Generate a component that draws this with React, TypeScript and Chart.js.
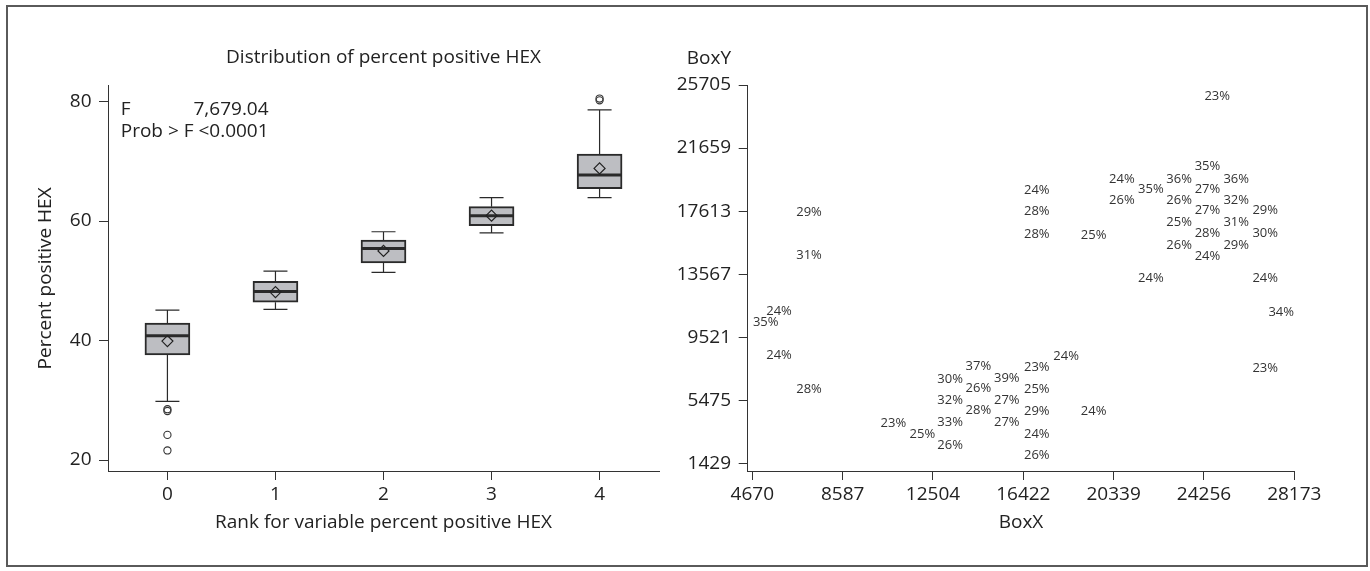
import React, { useEffect, useRef } from "react";
import { Chart, registerables } from "chart.js";

Chart.register(...registerables);

// ---------- Left panel: box plot data ----------
const RANKS = [0, 1, 2, 3, 4];
const Q1 = [37.6, 46.4, 53.0, 59.2, 65.4];
const MEDIAN = [40.8, 48.2, 55.4, 60.9, 67.7];
const Q3 = [42.9, 49.9, 56.8, 62.4, 71.2];
const WHISKER_LOW = [29.8, 45.2, 51.4, 58.0, 63.9];
const WHISKER_HIGH = [45.1, 51.6, 58.2, 63.9, 78.6];
const MEANS = [39.9, 48.1, 55.0, 60.9, 68.8];
const OUTLIER_RANK = [0, 0, 0, 0, 4, 4];
const OUTLIER_VALUE = [28.2, 28.5, 24.2, 21.6, 80.2, 80.5];
const LEFT_Y_TICKS = [20, 40, 60, 80];
const LEFT_TITLE = "Distribution of percent positive HEX";
const LEFT_Y_TITLE = "Percent positive HEX";
const LEFT_X_TITLE = "Rank for variable percent positive HEX";
const STAT_F_LABEL = "F";
const STAT_F_VALUE = "7,679.04";
const STAT_P_LINE = "Prob > F <0.0001";

// ---------- Right panel: labelled scatter data ----------
const BOX_X = [
  5251, 5828, 5828, 7130, 7130, 7130, 10787, 12045, 13246, 13246, 13246, 13246,
  14474, 14474, 14474, 15706, 15706, 15706, 17007, 17007, 17007, 17007, 17007,
  17007, 17007, 17007, 18278, 19471, 19471, 20695, 20695, 21953, 21953, 23180,
  23180, 23180, 23180, 24408, 24408, 24408, 24408, 24408, 25653, 25653, 25653,
  25653, 26911, 26911, 26911, 27605, 26911, 24829,
];
const BOX_Y = [
  10477, 11157, 8334, 17536, 14751, 6178, 3996, 3309, 6839, 5446, 4034, 2603,
  7628, 6242, 4849, 6883, 5491, 4060, 7589, 6178, 4740, 3309, 1962,
  18922, 17574, 16124, 8269, 4740, 16079, 19673, 18280, 19031, 13300, 19673,
  18280, 16894, 15437, 20462, 19031, 17638, 16188, 14687, 19673, 18280, 16894,
  15437, 17638, 16188, 13300, 11093, 7525, 24954,
];
const PCT = [
  "35%", "24%", "24%", "29%", "31%", "28%", "23%", "25%", "30%", "32%", "33%", "26%",
  "37%", "26%", "28%", "39%", "27%", "27%", "23%", "25%", "29%", "24%", "26%",
  "24%", "28%", "28%", "24%", "24%", "25%", "24%", "26%", "35%", "24%", "36%",
  "26%", "25%", "26%", "35%", "27%", "27%", "28%", "24%", "36%", "32%", "31%",
  "29%", "29%", "30%", "24%", "34%", "23%", "23%",
];
const RIGHT_X_TICKS = [4670, 8587, 12504, 16422, 20339, 24256, 28173];
const RIGHT_Y_TICKS = [1429, 5475, 9521, 13567, 17613, 21659, 25705];
const RIGHT_X_TITLE = "BoxX";
const RIGHT_Y_TITLE = "BoxY";

const FONT = "'Open Sans', sans-serif";
const TEXT = "#222222";
const AXIS = "#333333";

Chart.defaults.font.family = FONT;
Chart.defaults.color = TEXT;

const gridOpts = {
  display: true,
  drawOnChartArea: false,
  drawTicks: true,
  tickLength: 9,
  color: AXIS,
  lineWidth: 1,
  offset: false,
};
const borderOpts = { display: true, color: AXIS, width: 1 };

const boxPlugin = {
  id: "boxParts",
  afterDatasetDraw(chart: any, args: any) {
    if (args.index !== 0) return;
    const { ctx, scales } = chart;
    const xs = scales.x;
    const ys = scales.y;
    ctx.save();
    ctx.strokeStyle = "#2a2a2a";
    RANKS.forEach((r, i) => {
      const x = xs.getPixelForValue(r);
      const half = 22.5;
      const cap = 12;
      ctx.lineWidth = 1.2;
      ctx.beginPath();
      ctx.moveTo(x, ys.getPixelForValue(Q3[i]));
      ctx.lineTo(x, ys.getPixelForValue(WHISKER_HIGH[i]));
      ctx.moveTo(x, ys.getPixelForValue(Q1[i]));
      ctx.lineTo(x, ys.getPixelForValue(WHISKER_LOW[i]));
      ctx.moveTo(x - cap, ys.getPixelForValue(WHISKER_HIGH[i]));
      ctx.lineTo(x + cap, ys.getPixelForValue(WHISKER_HIGH[i]));
      ctx.moveTo(x - cap, ys.getPixelForValue(WHISKER_LOW[i]));
      ctx.lineTo(x + cap, ys.getPixelForValue(WHISKER_LOW[i]));
      ctx.stroke();
      ctx.lineWidth = 3;
      ctx.beginPath();
      const my = ys.getPixelForValue(MEDIAN[i]);
      ctx.moveTo(x - half + 1, my);
      ctx.lineTo(x + half - 1, my);
      ctx.stroke();
    });
    ctx.restore();
  },
  afterDraw(chart: any) {
    const { ctx, chartArea } = chart;
    ctx.save();
    ctx.font = `19px ${FONT}`;
    ctx.fillStyle = TEXT;
    ctx.textBaseline = "middle";
    const x0 = chartArea.left + 12.7;
    const y1 = chartArea.top + 24;
    const y2 = chartArea.top + 45.7;
    ctx.textAlign = "left";
    ctx.fillText(STAT_F_LABEL, x0, y1);
    ctx.fillText(STAT_P_LINE, x0, y2);
    const w = ctx.measureText(STAT_P_LINE).width;
    ctx.textAlign = "right";
    ctx.fillText(STAT_F_VALUE, x0 + w, y1);
    ctx.restore();
  },
};

const labelPlugin = {
  id: "pctLabels",
  afterDatasetsDraw(chart: any) {
    const meta = chart.getDatasetMeta(0);
    const { ctx } = chart;
    ctx.save();
    ctx.font = `13px ${FONT}`;
    ctx.fillStyle = "#333333";
    ctx.textAlign = "center";
    ctx.textBaseline = "middle";
    meta.data.forEach((pt: any, i: number) => {
      ctx.fillText(PCT[i], pt.x, pt.y);
    });
    ctx.restore();
  },
  afterDraw(chart: any) {
    const { ctx, chartArea, scales } = chart;
    ctx.save();
    ctx.font = `19px ${FONT}`;
    ctx.fillStyle = TEXT;
    ctx.textAlign = "right";
    ctx.textBaseline = "middle";
    ctx.fillText(RIGHT_Y_TITLE, scales.y.right - 9 - 7.7, chartArea.top - 26);
    ctx.restore();
  },
};

function LeftChart() {
  const ref = useRef<HTMLCanvasElement | null>(null);
  useEffect(() => {
    if (!ref.current) return;
    const chart = new Chart(ref.current, {
      type: "bar",
      data: {
        datasets: [
          {
            type: "bar",
            data: RANKS.map((r, i) => ({ x: r, y: [Q1[i], Q3[i]] })) as any,
            backgroundColor: "#bdbec2",
            borderColor: "#2a2a2a",
            borderWidth: 2,
            borderSkipped: false,
            barThickness: 45,
            order: 3,
          } as any,
          {
            type: "scatter",
            data: OUTLIER_RANK.map((r, i) => ({ x: r, y: OUTLIER_VALUE[i] })),
            pointStyle: "circle",
            pointRadius: 3.6,
            pointBackgroundColor: "rgba(255,255,255,0)",
            pointBorderColor: "#333333",
            pointBorderWidth: 1.1,
            order: 2,
          } as any,
          {
            type: "scatter",
            data: RANKS.map((r, i) => ({ x: r, y: MEANS[i] })),
            pointStyle: "rectRot",
            pointRadius: 5.5,
            pointBackgroundColor: "rgba(255,255,255,0)",
            pointBorderColor: "#222222",
            pointBorderWidth: 1.2,
            order: 1,
          } as any,
        ],
      },
      options: {
        animation: false,
        responsive: false,
        events: [],
        layout: { padding: { left: 0, right: 21, top: 0, bottom: 0 } },
        plugins: {
          legend: { display: false },
          tooltip: { enabled: false },
          title: {
            display: true,
            text: LEFT_TITLE,
            fullSize: false,
            color: TEXT,
            font: { size: 19, family: FONT, weight: "normal" },
            padding: { top: 46, bottom: 17 },
          },
        },
        scales: {
          x: {
            type: "linear",
            min: -0.55,
            max: 4.55,
            offset: false,
            afterBuildTicks: (s: any) => {
              s.ticks = RANKS.map((v) => ({ value: v }));
            },
            afterFit: (s: any) => {
              s.height = 100;
            },
            grid: gridOpts,
            border: borderOpts,
            ticks: {
              color: TEXT,
              padding: 3.6,
              font: { size: 19, family: FONT },
              callback: (v: any) => String(v),
            },
            title: {
              display: true,
              text: LEFT_X_TITLE,
              color: TEXT,
              font: { size: 19, family: FONT },
              padding: { top: 0, bottom: 36.6 },
            },
          },
          y: {
            type: "linear",
            min: 18.16,
            max: 82.63,
            beginAtZero: false,
            afterBuildTicks: (s: any) => {
              s.ticks = LEFT_Y_TICKS.map((v) => ({ value: v }));
            },
            afterFit: (s: any) => {
              s.width = 108;
            },
            grid: gridOpts,
            border: borderOpts,
            ticks: {
              color: TEXT,
              padding: 7.5,
              font: { size: 19, family: FONT },
              callback: (v: any) => String(v),
            },
            title: {
              display: true,
              text: LEFT_Y_TITLE,
              color: TEXT,
              font: { size: 19, family: FONT },
              padding: { top: 34.6, bottom: 0 },
            },
          },
        },
      } as any,
      plugins: [boxPlugin],
    });
    return () => chart.destroy();
  }, []);
  return (
    <canvas
      ref={ref}
      width={680}
      height={571}
      style={{ position: "absolute", left: 0, top: 0, width: 680, height: 571 }}
    />
  );
}

function RightChart() {
  const ref = useRef<HTMLCanvasElement | null>(null);
  useEffect(() => {
    if (!ref.current) return;
    const chart = new Chart(ref.current, {
      type: "scatter",
      data: {
        datasets: [
          {
            data: BOX_X.map((x, i) => ({ x, y: BOX_Y[i] })),
            pointRadius: 0,
            pointHoverRadius: 0,
          },
        ],
      },
      options: {
        animation: false,
        responsive: false,
        events: [],
        layout: { padding: { left: 0, right: 75.7, top: 85, bottom: 0 } },
        plugins: {
          legend: { display: false },
          tooltip: { enabled: false },
          title: { display: false },
        },
        scales: {
          x: {
            type: "linear",
            min: 4470,
            max: 28173,
            offset: false,
            afterBuildTicks: (s: any) => {
              s.ticks = RIGHT_X_TICKS.map((v) => ({ value: v }));
            },
            afterFit: (s: any) => {
              s.height = 100;
            },
            grid: gridOpts,
            border: borderOpts,
            ticks: {
              color: TEXT,
              padding: 3.6,
              maxRotation: 0,
              autoSkip: false,
              font: { size: 19, family: FONT },
              callback: (v: any) => String(v),
            },
            title: {
              display: true,
              text: RIGHT_X_TITLE,
              color: TEXT,
              font: { size: 19, family: FONT },
              padding: { top: 0, bottom: 36.6 },
            },
          },
          y: {
            type: "linear",
            min: 935,
            max: 25705,
            afterBuildTicks: (s: any) => {
              s.ticks = RIGHT_Y_TICKS.map((v) => ({ value: v }));
            },
            afterFit: (s: any) => {
              s.width = 87.7;
            },
            grid: gridOpts,
            border: borderOpts,
            ticks: {
              color: TEXT,
              padding: 7.7,
              autoSkip: false,
              font: { size: 19, family: FONT },
              callback: (v: any) => String(v),
            },
          },
        },
      } as any,
      plugins: [labelPlugin],
    });
    return () => chart.destroy();
  }, []);
  return (
    <canvas
      ref={ref}
      width={710}
      height={571}
      style={{ position: "absolute", left: 660, top: 0, width: 710, height: 571 }}
    />
  );
}

export default function App() {
  return (
    <div
      style={{
        position: "fixed",
        left: 0,
        top: 0,
        width: 1370,
        height: 571,
        background: "#ffffff",
        overflow: "hidden",
      }}
    >
      <div
        style={{
          position: "absolute",
          left: 6,
          top: 5,
          width: 1362,
          height: 562,
          border: "2px solid #5a5a5a",
          boxSizing: "border-box",
        }}
      />
      <LeftChart />
      <RightChart />
    </div>
  );
}
